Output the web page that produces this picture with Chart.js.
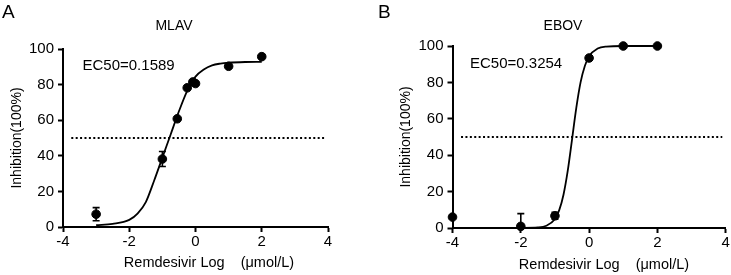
<!DOCTYPE html>
<html lang="en">
<head>
  <meta charset="UTF-8">
  <title>Remdesivir inhibition - MLAV / EBOV</title>
  <script src="https://cdn.jsdelivr.net/npm/chart.js"></script>
  <style>
    body { margin: 0; background: #fff; }
    .panel { position: absolute; top: 0; }
  </style>
</head>
<body>
  <div class="panel" style="left: 0px;"><canvas id="chartA" width="360" height="275"></canvas></div>
  <div class="panel" style="left: 372px;"><canvas id="chartB" width="359" height="275"></canvas></div>

  <script>
    // ---- data ----
    const xTicks = [-4, -2, 0, 2, 4];
    const yTicks = [0, 20, 40, 60, 80, 100];
    const refLineX = [-3.75, 3.9];
    const refLineY = [50, 50];

    // MLAV (panel A)
    const mlavLogConc = [-3, -1, -0.55, -0.25, -0.08, 0, 1, 2];
    const mlavInhib   = [7.2, 38.2, 60.8, 78.2, 81.5, 80.6, 90.3, 95.7];
    const mlavErr     = [3.7, 4.2, 0, 0, 0, 0, 0, 0];
    const mlavFitX = [-3, -2.5, -2, -1.75, -1.5, -1.25, -1, -0.75, -0.5, -0.25, 0, 0.25, 0.5, 0.75, 1, 1.5, 2];
    const mlavFitY = [1, 1.8, 4, 7.5, 14, 26, 39, 52, 65, 76.5, 84.5, 88.5, 90.8, 91.8, 92.3, 92.7, 92.8];

    // EBOV (panel B)
    const ebovLogConc = [-4, -2, -1, 0, 1, 2];
    const ebovInhib   = [6, 0.9, 6.7, 93.4, 100, 100];
    const ebovErr     = [0, 7, 1.9, 0, 0, 0];
    const ebovFitX = [-4, -3, -2, -1.5, -1.25, -1, -0.875, -0.75, -0.625, -0.5, -0.375, -0.25, -0.125, 0, 0.25, 0.5, 1, 1.5, 2];
    const ebovFitY = [0, 0, 0.1, 0.3, 1.2, 5, 9.8, 18.3, 31.5, 48.6, 66, 80, 89, 94.4, 98.6, 99.7, 100, 100, 100];

    const FONT = '"Liberation Sans", Arial, sans-serif';

    const toPoints = (xs, ys) => xs.map((x, i) => ({ x: x, y: ys[i] }));

    // error bars with caps, kept inside the plot area
    const errorBars = {
      id: 'errorBars',
      afterDatasetsDraw(chart, args, opts) {
        const ctx = chart.ctx, area = chart.chartArea;
        const xs = chart.scales.x, ys = chart.scales.y;
        const pts = chart.data.datasets[2].data;
        ctx.save();
        ctx.beginPath();
        ctx.rect(area.left, area.top - 10, area.right - area.left, area.bottom - area.top + 10);
        ctx.clip();
        ctx.strokeStyle = '#000';
        ctx.lineWidth = 1.6;
        pts.forEach((p, i) => {
          const e = opts.err[i];
          if (!e) return;
          const px = xs.getPixelForValue(p.x);
          const top = ys.getPixelForValue(p.y + e);
          const bot = ys.getPixelForValue(p.y - e);
          ctx.beginPath();
          ctx.moveTo(px, top); ctx.lineTo(px, bot);
          ctx.moveTo(px - 3.5, top); ctx.lineTo(px + 3.5, top);
          ctx.moveTo(px - 3.5, bot); ctx.lineTo(px + 3.5, bot);
          ctx.stroke();
        });
        ctx.restore();
      }
    };

    // panel letter, title, EC50 note and x axis title
    const panelText = {
      id: 'panelText',
      afterDraw(chart, args, o) {
        const ctx = chart.ctx;
        ctx.save();
        ctx.fillStyle = '#000';
        ctx.textBaseline = 'middle';
        ctx.textAlign = 'left';
        ctx.font = '19px ' + FONT;
        ctx.fillText(o.letter, o.letterPos[0], o.letterPos[1]);
        ctx.font = '15px ' + FONT;
        ctx.fillText(o.note, o.notePos[0], o.notePos[1]);
        ctx.textAlign = 'center';
        ctx.font = '14px ' + FONT;
        ctx.fillText(o.title, o.titlePos[0], o.titlePos[1]);
        ctx.font = '14.5px ' + FONT;
        ctx.fillText('Remdesivir Log    (\u03bcmol/L)', o.xTitlePos[0], o.xTitlePos[1]);
        ctx.restore();
      }
    };

    function makeChart(id, xs, ys, err, fitX, fitY, lay, text) {
      return new Chart(document.getElementById(id), {
        type: 'scatter',
        data: {
          datasets: [
            {
              type: 'line',
              data: toPoints(fitX, fitY),
              borderColor: '#000',
              borderWidth: 1.8,
              pointRadius: 0,
              cubicInterpolationMode: 'monotone',
              clip: false
            },
            {
              type: 'line',
              data: toPoints(refLineX, refLineY),
              borderColor: '#000',
              borderWidth: 2,
              borderDash: [2, 2.4],
              pointRadius: 0
            },
            {
              data: toPoints(xs, ys),
              backgroundColor: '#000',
              borderColor: '#000',
              pointRadius: 4.3,
              clip: false
            }
          ]
        },
        options: {
          responsive: false,
          animation: false,
          events: [],
          layout: { padding: { left: lay.padLeft, right: lay.padRight, top: lay.top, bottom: 0 } },
          plugins: {
            legend: { display: false },
            tooltip: { enabled: false },
            errorBars: { err: err },
            panelText: text
          },
          scales: {
            x: {
              type: 'linear',
              min: -4, max: 4,
              afterBuildTicks: s => { s.ticks = xTicks.map(v => ({ value: v })); },
              afterFit: s => { s.height = lay.xHeight; },
              grid: { drawOnChartArea: false, tickLength: 5, tickWidth: 2, tickColor: '#000' },
              border: { color: '#000', width: 2 },
              ticks: { color: '#000', font: { size: 15, family: FONT }, padding: 1, maxRotation: 0 }
            },
            y: {
              type: 'linear',
              min: 0, max: 100,
              afterBuildTicks: s => { s.ticks = yTicks.map(v => ({ value: v })); },
              afterFit: s => { s.width = 63; },
              grid: { drawOnChartArea: false, tickLength: 5, tickWidth: 2, tickColor: '#000' },
              border: { color: '#000', width: 2 },
              ticks: { color: '#000', font: { size: 15, family: FONT }, padding: 4 },
              title: {
                display: true,
                text: 'Inhibition(100%)',
                color: '#000',
                font: { size: 14, family: FONT },
                padding: { top: 8.6, bottom: 0 }
              }
            }
          }
        },
        plugins: [errorBars, panelText]
      });
    }

    makeChart('chartA', mlavLogConc, mlavInhib, mlavErr, mlavFitX, mlavFitY,
      { padLeft: 0, padRight: 32, top: 49, xHeight: 48 },
      { letter: 'A', letterPos: [2, 13], title: 'MLAV', titlePos: [174, 26],
        note: 'EC50=0.1589', notePos: [82.5, 66], xTitlePos: [209, 262.5] });

    makeChart('chartB', ebovLogConc, ebovInhib, ebovErr, ebovFitX, ebovFitY,
      { padLeft: 17.5, padRight: 4, top: 46, xHeight: 47 },
      { letter: 'B', letterPos: [6, 13], title: 'EBOV', titlePos: [191, 26],
        note: 'EC50=0.3254', notePos: [98, 64], xTitlePos: [232, 265] });
  </script>
</body>
</html>
